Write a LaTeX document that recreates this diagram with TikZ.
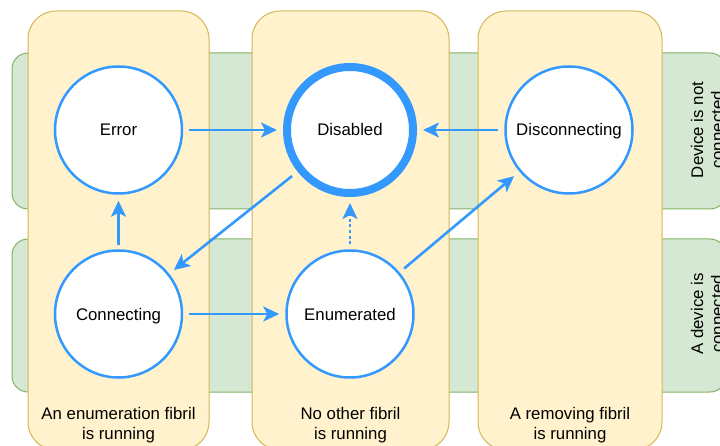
\documentclass[tikz,border=0pt]{standalone}
\usepackage{fontspec}
\setmainfont{Liberation Sans}
\usetikzlibrary{arrows.meta}

\definecolor{laneFill}{HTML}{FFF2CC}
\definecolor{laneLine}{HTML}{D6B656}
\definecolor{rowFill}{HTML}{D5E8D4}
\definecolor{rowLine}{HTML}{82B366}
\definecolor{stateBlue}{HTML}{3399FF}

\tikzset{
  txt/.style={font=\fontsize{16.8}{20}\selectfont, align=center, text=black},
  rowband/.style={draw=rowLine, fill=rowFill, line width=1pt, rounded corners=16pt},
  fibrillane/.style={draw=laneLine, fill=laneFill, line width=1pt, rounded corners=28pt},
  state/.style={txt, circle, draw=stateBlue, fill=white, line width=2.5pt, minimum size=127pt,
    inner sep=0pt, text height=12pt, text depth=0pt},
  initstate/.style={state, line width=8pt, minimum size=126pt},
  flow/.style={draw=stateBlue, line width=2.6pt, shorten <=6pt, shorten >=6pt,
    -{Stealth[length=16pt, width=15pt, inset=4pt]}},
  dottedflow/.style={flow, dash pattern=on 3pt off 2.6pt}
}

\begin{document}
\begin{tikzpicture}[x=1pt, y=-1pt]
  \useasboundingbox (0,0) rectangle (720,446);
  \clip (0,0) rectangle (720,446);

  % horizontal bands: device state
  \path[rowband] (12,53) rectangle (726,209);
  \path[rowband] (12,239) rectangle (726,392);
  \node[txt, rotate=90] (rowTop) at (707,130) {Device is not\\connected};
  \node[txt, rotate=90] (rowBottom) at (707,314) {A device is\\connected};

  % vertical lanes: which fibril runs
  \path[fibrillane] (28,11) rectangle (209,450);
  \path[fibrillane] (252,11) rectangle (449,450);
  \path[fibrillane] (478,11) rectangle (662,450);
  \node[txt] (laneA) at (118.5,425) {An enumeration fibril\\is running};
  \node[txt] (laneB) at (350.5,425) {No other fibril\\is running};
  \node[txt] (laneC) at (570,425) {A removing fibril\\is running};

  % states
  \node[state] (error) at (118.5,130) {Error};
  \node[initstate] (disabled) at (350,130) {Disabled};
  \node[state] (disconnecting) at (569,130) {Disconnecting};
  \node[state] (connecting) at (118.5,314) {Connecting};
  \node[state] (enumerated) at (350,314) {Enumerated};

  % transitions
  \draw[flow] (error) -- (disabled);
  \draw[flow] (disconnecting) -- (disabled);
  \draw[flow, shorten <=4pt] (connecting) -- (error);
  \draw[flow] (connecting) -- (enumerated);
  \draw[flow, shorten <=7pt] (disabled) -- (connecting);
  \draw[flow, shorten >=7pt] (enumerated) -- (disconnecting);
  \draw[dottedflow, shorten <=5pt] (enumerated) -- (disabled);
\end{tikzpicture}
\end{document}
